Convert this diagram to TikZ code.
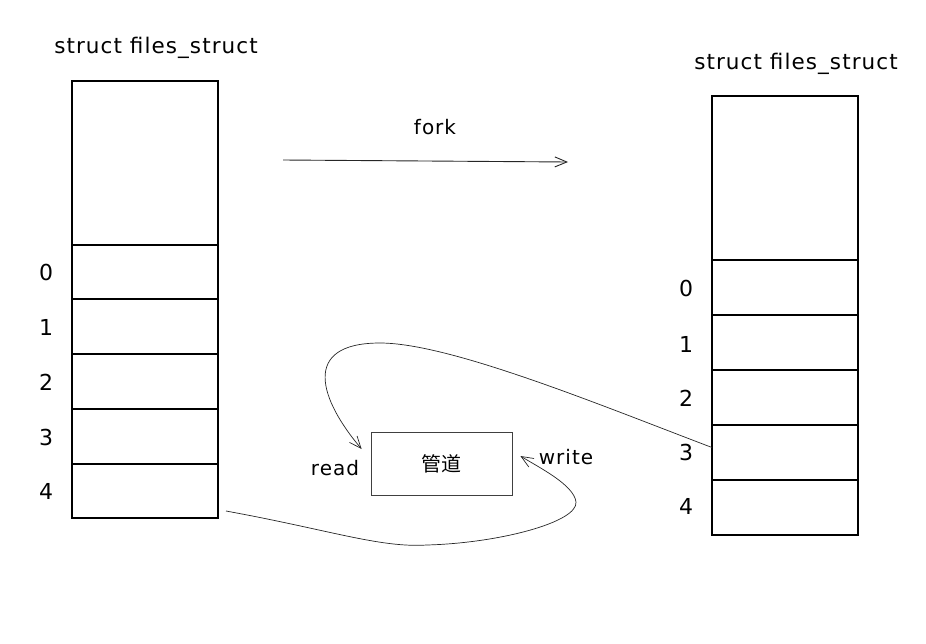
\documentclass[tikz,border=0pt]{standalone}
\usepackage{fontspec}
\setmainfont{DejaVu Sans}[LetterSpace=5]
\newfontfamily\cjk{Noto Sans CJK SC}
\usetikzlibrary{arrows.meta}
\begin{document}
\begin{tikzpicture}[x=1pt,y=-1pt,
  cell/.style={draw,line width=1.6pt,minimum width=146pt,inner sep=0pt,outer sep=0pt},
  lab/.style={font=\fontsize{20}{24}\selectfont,inner sep=0pt},
  ttl/.style={font=\fontsize{21.5}{24}\selectfont,inner sep=0pt},
  num/.style={font=\fontsize{22}{24}\selectfont,inner sep=0pt},
  conn/.style={draw=black!85,line width=0.7pt,-{Straight Barb[length=12pt,width=10pt]}},
  pipe/.style={draw=black!75,line width=0.8pt,minimum width=141pt,minimum height=63pt,inner sep=0pt,font=\fontsize{20}{24}\selectfont}]
\useasboundingbox (0,0) rectangle (926,643);
% left table
\node[ttl] (lt) at (156,48) {struct files\_struct};
\node[cell,minimum height=164pt] (Ltop) at (145,163) {};
\node[cell,minimum height=54pt] (L0) at (145,272) {};
\node[cell,minimum height=55pt] (L1) at (145,326.5) {};
\node[cell,minimum height=55pt] (L2) at (145,381.5) {};
\node[cell,minimum height=55pt] (L3) at (145,436.5) {};
\node[cell,minimum height=54pt] (L4) at (145,491) {};
\node[num] (ln0) at (46,272) {0};
\node[num] (ln1) at (46,327) {1};
\node[num] (ln2) at (46,382) {2};
\node[num] (ln3) at (46,437) {3};
\node[num] (ln4) at (46,491) {4};
% right table
\node[ttl] (rt) at (796,64) {struct files\_struct};
\node[cell,minimum height=164pt] (Rtop) at (785,178) {};
\node[cell,minimum height=55pt] (R0) at (785,287.5) {};
\node[cell,minimum height=55pt] (R1) at (785,342.5) {};
\node[cell,minimum height=55pt] (R2) at (785,397.5) {};
\node[cell,minimum height=55pt] (R3) at (785,452.5) {};
\node[cell,minimum height=55pt] (R4) at (785,507.5) {};
\node[num] (rn0) at (686,288) {0};
\node[num] (rn1) at (686,344) {1};
\node[num] (rn2) at (686,398) {2};
\node[num] (rn3) at (686,452) {3};
\node[num] (rn4) at (686,506) {4};
% fork
\node[lab] (fork) at (435,127) {fork};
\coordinate (f1) at (283,160);
\coordinate (f2) at (568,162);
\draw[conn,line width=0.9pt] (f1) -- (f2);
% pipe
\node[pipe] (P) at (441.5,463.5) {\cjk 管道};
\node[lab] (rd) at (335,468) {read};
\node[lab] (wr) at (566,457) {write};
\coordinate (rdEnd) at ([xshift=-9pt,yshift=14.5pt]P.west);
\coordinate (wrEnd) at ([xshift=8pt,yshift=7.5pt]P.east);
\draw[conn] ([yshift=5pt]R3.west) .. controls (600,405) and (450,343) .. (380,343)
   .. controls (300,343) and (320,400) .. (rdEnd);
\draw[conn] ([xshift=8pt,yshift=-20pt]L4.east) .. controls (330,530) and (380,548) .. (427,545)
   .. controls (500,543) and (578,522) .. (576,502)
   .. controls (574,485) and (540,468) .. (wrEnd);
\end{tikzpicture}
\end{document}
